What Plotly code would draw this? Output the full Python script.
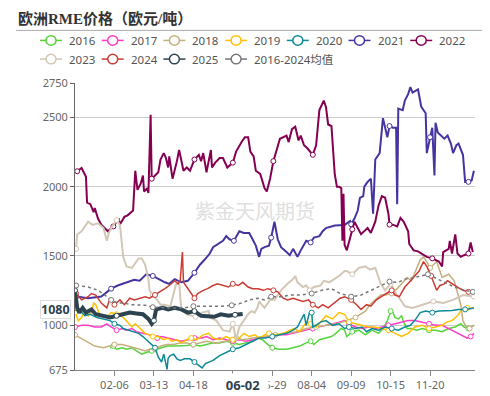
import plotly.graph_objects as go
import pandas as pd

# ---------------- data (day offset from 01-01, value) ----------------
tick_days = [36, 72, 108, 144, 180, 216, 252, 288, 324]
tick_labels = ["02-06", "03-13", "04-18", "05-24", "06-29", "08-04", "09-09", "10-15", "11-20"]
y_ticks = [675, 1000, 1500, 2000, 2500, 2750]

s2016 = [(32, 836), (35, 848), (38, 825), (43, 836), (47, 825), (52, 836), (56, 813), (61, 790), (65, 802), (70, 813),
         (75, 825), (79, 836), (84, 848), (90, 848), (96, 848), (102, 852), (108, 859), (114, 848), (120, 859), (126, 871),
         (132, 871), (138, 883), (144, 871), (150, 859), (156, 871), (162, 883), (167, 906), (171, 894), (176, 859), (180, 836),
         (186, 825), (193, 825), (199, 836), (205, 848), (211, 871), (215, 883), (218, 859), (223, 894), (229, 906), (234, 917),
         (238, 940), (243, 975), (246, 963), (248, 917), (253, 952), (259, 963), (265, 929), (271, 963), (277, 940), (282, 986),
         (285, 1032), (288, 1101), (289, 1113), (292, 1055), (295, 1044), (298, 1067), (300, 1021), (303, 975), (307, 975), (312, 963),
         (317, 975), (323, 963), (329, 963), (335, 952), (341, 975), (347, 986), (352, 1009), (355, 986), (359, 975), (364, 998)]

s2017 = [(0, 986), (6, 998), (12, 998), (18, 986), (24, 986), (29, 1009), (33, 986), (38, 963), (43, 975), (47, 963),
         (52, 975), (56, 952), (62, 940), (68, 929), (75, 906), (79, 917), (85, 906), (91, 894), (97, 883), (103, 894),
         (109, 906), (116, 906), (120, 917), (126, 894), (132, 906), (138, 894), (144, 883), (150, 894), (156, 883), (162, 894),
         (168, 906), (174, 917), (180, 917), (186, 929), (193, 929), (199, 940), (205, 952), (211, 963), (217, 975), (223, 986),
         (229, 998), (235, 1009), (241, 1021), (246, 1032), (250, 1009), (256, 986), (262, 975), (268, 986), (274, 975), (280, 986),
         (286, 998), (292, 1009), (298, 1021), (304, 1032), (310, 1032), (317, 1021), (323, 1009), (329, 998), (335, 998), (341, 975),
         (347, 952), (353, 929), (358, 906), (361, 917), (364, 940)]

s2018 = [(0, 929), (5, 906), (11, 883), (18, 848), (26, 836), (32, 848), (36, 859), (43, 859), (49, 848), (55, 836),
         (59, 825), (64, 813), (68, 825), (73, 825), (78, 848), (84, 859), (90, 859), (96, 871), (102, 871), (108, 859),
         (114, 871), (120, 883), (129, 871), (138, 883), (147, 906), (153, 894), (162, 906), (174, 917), (183, 929), (193, 940),
         (202, 952), (211, 975), (220, 986), (229, 998), (238, 1009), (244, 1021), (256, 1055), (265, 1101), (269, 1147), (274, 1182),
         (279, 1217), (283, 1217), (289, 1228), (294, 1263), (298, 1298), (303, 1344), (307, 1320), (312, 1413), (315, 1470), (318, 1493),
         (321, 1459), (324, 1413), (327, 1436), (330, 1459), (335, 1344), (341, 1367), (346, 1320), (349, 1228), (352, 1147), (354, 1030),
         (357, 986), (360, 975), (364, 1000)]

s2019 = [(0, 1090), (3, 1032), (6, 1055), (9, 1101), (12, 1067), (15, 1090), (17, 1159), (19, 1147), (23, 1067), (29, 1055),
         (33, 1090), (38, 1078), (44, 1055), (49, 1009), (52, 986), (55, 1009), (59, 975), (64, 940), (68, 929), (71, 917),
         (76, 917), (81, 894), (85, 906), (88, 883), (93, 894), (97, 871), (102, 894), (106, 906), (111, 894), (117, 929),
         (122, 940), (126, 906), (132, 894), (138, 917), (144, 894), (150, 906), (154, 940), (159, 917), (164, 929), (168, 906),
         (173, 929), (177, 940), (183, 929), (190, 940), (196, 963), (200, 975), (205, 952), (209, 998), (212, 1021), (215, 1009),
         (220, 986), (224, 1021), (229, 1067), (232, 1055), (235, 1044), (238, 1067), (241, 1090), (246, 1078), (250, 1021), (256, 1009),
         (262, 998), (268, 986), (274, 986), (280, 975), (286, 963), (292, 940), (298, 917), (304, 940), (310, 986), (317, 998),
         (323, 975), (329, 986), (335, 998), (339, 1021), (344, 1032), (349, 1067), (353, 1113), (358, 1124), (364, 1124)]

s2020 = [(0, 1124), (5, 1101), (9, 1067), (14, 1078), (20, 1055), (26, 1044), (32, 1032), (36, 1009), (41, 998), (44, 975),
         (49, 963), (53, 952), (58, 940), (62, 917), (67, 883), (70, 859), (73, 836), (76, 767), (79, 733), (81, 790),
         (84, 680), (85, 760), (87, 779), (90, 790), (93, 756), (96, 744), (100, 756), (105, 756), (109, 733), (113, 710),
         (116, 690), (119, 721), (126, 744), (132, 779), (138, 802), (144, 825), (150, 836), (156, 859), (162, 883), (168, 906),
         (174, 906), (180, 917), (186, 929), (193, 940), (199, 963), (203, 986), (206, 1032), (209, 1078), (211, 998), (214, 1090),
         (216, 1090), (217, 986), (220, 998), (224, 1021), (229, 1032), (235, 998), (241, 1009), (246, 975), (250, 986), (256, 975),
         (262, 986), (266, 952), (271, 975), (277, 963), (283, 986), (289, 975), (295, 963), (301, 986), (306, 998), (310, 1032),
         (315, 1090), (320, 1101), (326, 1090), (332, 1101), (338, 1101), (344, 1105), (350, 1113), (356, 1113), (364, 1124)]

s2021 = [(1, 1206), (12, 1194), (24, 1206), (30, 1240), (33, 1263), (39, 1286), (47, 1309), (54, 1327), (59, 1320), (65, 1367),
         (71, 1355), (76, 1332), (82, 1309), (86, 1298), (91, 1332), (97, 1309), (103, 1320), (109, 1378), (114, 1436), (118, 1470),
         (123, 1517), (126, 1563), (130, 1586), (135, 1609), (138, 1643), (141, 1620), (145, 1609), (150, 1678), (154, 1666), (159, 1666),
         (162, 1620), (165, 1574), (168, 1493), (170, 1551), (173, 1563), (177, 1574), (179, 1632), (182, 1747), (185, 1620), (188, 1563),
         (193, 1528), (196, 1505), (199, 1551), (203, 1493), (206, 1540), (211, 1609), (215, 1597), (218, 1632), (223, 1643), (226, 1678),
         (229, 1701), (237, 1720), (246, 1724), (251, 1752), (252, 1729), (255, 1770), (258, 1828), (260, 1920), (263, 1932), (264, 2001),
         (267, 2035), (270, 2058), (272, 1805), (273, 2070), (274, 2197), (278, 2243), (281, 2496), (285, 2358), (287, 2439), (290, 2427),
         (293, 2427), (294, 1874), (295, 2565), (299, 2554), (301, 2623), (304, 2669), (306, 2720), (308, 2681), (313, 2704), (316, 2577),
         (320, 2531), (321, 2243), (324, 2358), (326, 2427), (328, 2081), (329, 2462), (331, 2392), (334, 2370), (337, 2347), (340, 2370),
         (343, 2312), (345, 2243), (348, 2300), (350, 2312), (354, 2231), (356, 2035), (359, 2035), (362, 2047), (364, 2116)]

s2022 = [(2, 2112), (6, 2135), (10, 2072), (11, 1885), (14, 1874), (17, 1816), (18, 1846), (21, 1770), (24, 1726), (27, 1701),
         (30, 1678), (35, 1713), (40, 1770), (41, 1726), (45, 1782), (48, 1793), (53, 1828), (55, 2116), (57, 1977), (60, 2024),
         (62, 2081), (63, 1966), (66, 1989), (67, 1955), (69, 2520), (70, 2058), (74, 2093), (76, 2105), (78, 2197), (81, 2243),
         (83, 2208), (85, 2139), (86, 2220), (89, 2058), (93, 2185), (95, 2266), (99, 2116), (102, 2139), (105, 2116), (109, 2197),
         (113, 2231), (115, 2185), (117, 2243), (120, 2105), (124, 2266), (125, 2139), (128, 2174), (132, 2208), (135, 2208), (139, 2139),
         (144, 2174), (147, 2254), (152, 2323), (155, 2358), (158, 2358), (160, 2254), (163, 2220), (165, 2116), (169, 2093), (173, 1989),
         (175, 1966), (178, 2058), (181, 2185), (184, 2266), (187, 2347), (193, 2370), (195, 2323), (198, 2416), (201, 2434), (204, 2335),
         (206, 2370), (209, 2300), (212, 2278), (217, 2231), (220, 2300), (223, 2554), (227, 2623), (229, 2577), (231, 2450), (234, 2439),
         (237, 2093), (239, 1999), (241, 1999), (243, 1990), (244, 1610), (245, 1950), (246, 1580), (248, 1540), (250, 1600), (253, 1692),
         (255, 1747), (261, 1657), (267, 1701), (270, 1666), (274, 1747), (277, 1865), (280, 1932), (283, 1920), (286, 1805), (287, 1726),
         (290, 1726), (294, 1713), (297, 1775), (300, 1747), (304, 1678), (305, 1586), (309, 1540), (313, 1533), (318, 1505), (321, 1493),
         (326, 1482), (332, 1459), (335, 1424), (336, 1528), (341, 1551), (342, 1609), (344, 1517), (347, 1655), (349, 1517), (352, 1493),
         (355, 1505), (359, 1517), (361, 1597), (363, 1528)]

s2023 = [(1, 1551), (2, 1655), (6, 1678), (12, 1747), (16, 1724), (21, 1736), (26, 1701), (29, 1609), (31, 1666), (33, 1701),
         (38, 1759), (41, 1724), (44, 1493), (47, 1424), (52, 1413), (55, 1447), (58, 1482), (61, 1482), (64, 1436), (67, 1332),
         (68, 1251), (71, 1217), (75, 1182), (78, 1147), (81, 1147), (87, 1136), (89, 1200), (92, 1290), (95, 1309), (97, 1113),
         (102, 1078), (110, 1060), (116, 1090), (122, 1101), (123, 1055), (129, 1032), (135, 963), (141, 952), (144, 1009), (147, 894),
         (150, 986), (153, 1021), (158, 1078), (161, 1101), (164, 1090), (167, 1136), (168, 1171), (173, 1124), (176, 1159), (179, 1194),
         (182, 1182), (188, 1251), (194, 1298), (199, 1332), (201, 1355), (203, 1309), (208, 1275), (211, 1286), (214, 1251), (218, 1275),
         (224, 1286), (227, 1320), (232, 1309), (237, 1332), (241, 1355), (246, 1390), (248, 1390), (253, 1367), (259, 1413), (265, 1424),
         (269, 1401), (274, 1413), (279, 1298), (283, 1251), (288, 1298), (292, 1240), (297, 1182), (301, 1136), (308, 1124), (317, 1147),
         (327, 1171), (336, 1159), (345, 1182), (354, 1217), (364, 1206)]

s2024 = [(1, 1228), (6, 1182), (12, 1205), (15, 1228), (19, 1217), (24, 1159), (29, 1124), (32, 1194), (36, 1147), (41, 1182),
         (45, 1147), (50, 1194), (54, 1182), (59, 1194), (64, 1205), (68, 1194), (73, 1217), (77, 1240), (82, 1263), (86, 1286),
         (91, 1320), (94, 1298), (96, 1320), (98, 1528), (99, 1309), (102, 1275), (106, 1228), (109, 1194), (112, 1228), (117, 1251),
         (121, 1263), (126, 1286), (130, 1298), (135, 1286), (140, 1275), (144, 1298), (149, 1286), (153, 1309), (158, 1275), (162, 1263),
         (167, 1263), (172, 1251), (176, 1263), (181, 1251), (185, 1240), (190, 1194), (194, 1182), (199, 1194), (203, 1182), (208, 1171),
         (213, 1182), (217, 1147), (222, 1124), (226, 1147), (231, 1124), (237, 1159), (242, 1194), (246, 1205), (252, 1182), (257, 1147),
         (261, 1113), (266, 1147), (270, 1136), (275, 1182), (279, 1205), (284, 1228), (289, 1251), (292, 1217), (296, 1205), (301, 1275),
         (305, 1309), (310, 1355), (314, 1390), (318, 1459), (321, 1424), (325, 1355), (330, 1251), (333, 1286), (337, 1298), (340, 1320),
         (345, 1298), (349, 1275), (354, 1251), (359, 1240), (365, 1240)]

s2025 = [(0, 1251), (2, 1124), (4, 1090), (7, 1124), (10, 1090), (15, 1113), (19, 1078), (26, 1067), (32, 1055), (38, 1067),
         (44, 1078), (50, 1090), (56, 1084), (62, 1078), (67, 1044), (70, 1009), (72, 1032), (74, 1113), (80, 1124), (85, 1113),
         (91, 1124), (97, 1113), (103, 1090), (109, 1101), (115, 1067), (121, 1067), (127, 1060), (133, 1078), (140, 1067), (146, 1074),
         (152, 1074), (153, 1080)]

s_avg = [(1, 1286), (12, 1275), (21, 1251), (27, 1217), (33, 1182), (39, 1159), (45, 1159), (51, 1147), (57, 1147), (64, 1143),
         (71, 1129), (79, 1124), (85, 1124), (91, 1124), (100, 1124), (108, 1136), (115, 1136), (124, 1136), (133, 1136), (143, 1143),
         (152, 1159), (159, 1182), (167, 1194), (173, 1182), (179, 1205), (188, 1205), (197, 1217), (206, 1217), (216, 1228), (225, 1251),
         (234, 1263), (242, 1228), (252, 1205), (261, 1217), (270, 1251), (279, 1286), (287, 1314), (295, 1309), (301, 1332), (310, 1344),
         (316, 1355), (322, 1367), (328, 1344), (337, 1309), (346, 1275), (356, 1251), (363, 1240)]

series = [
    ("2016", s2016, "#55d43a", 1.5, "solid"),
    ("2017", s2017, "#ff3cc7", 1.5, "solid"),
    ("2018", s2018, "#c4b07c", 1.5, "solid"),
    ("2019", s2019, "#ffc000", 1.5, "solid"),
    ("2020", s2020, "#0e8a96", 1.5, "solid"),
    ("2021", s2021, "#4535a0", 2, "solid"),
    ("2022", s2022, "#850052", 2, "solid"),
    ("2023", s2023, "#d3c7b6", 2, "solid"),
    ("2024", s2024, "#cc3b33", 1.5, "solid"),
    ("2025", s2025, "#2e4350", 4, "solid"),
    ("2016-2024均值", s_avg, "#777777", 1.5, "dot"),
]

base = pd.Timestamp("2024-01-01")


def to_date(d):
    return base + pd.Timedelta(days=d)


# plot area in pixels (for placing legend / title decorations)
L, T, W, H = 67, 75, 400, 300


def px(xp):
    return (xp - L) / W


def py(yp):
    return (T + H - yp) / H


fig = go.Figure()
marker_days = [0] + tick_days + [360]
for name, pts, color, width, dash in series:
    days = [p[0] for p in pts]
    vals = [p[1] for p in pts]
    xs = [to_date(d) for d in days]
    fig.add_trace(go.Scatter(x=xs, y=vals, mode="lines", name=name, showlegend=False,
                             line=dict(color=color, width=width, dash=dash), hoverinfo="skip"))
    # symbols at label interval
    mx, my = [], []
    for t in marker_days:
        best = min(range(len(days)), key=lambda i: abs(days[i] - t))
        if abs(days[best] - t) <= 4:
            mx.append(xs[best])
            my.append(vals[best])
    fig.add_trace(go.Scatter(x=mx, y=my, mode="markers", showlegend=False, hoverinfo="skip",
                             marker=dict(size=5, color="white", line=dict(color=color, width=1))))

# legend (drawn as shapes + text, two rows of seven)
for i, (name, pts, color, width, dash) in enumerate(series):
    col, row = i % 7, i // 7
    x0 = 32 + 61.7 * col
    yc = 30.5 + 19.5 * row
    fig.add_shape(type="line", xref="paper", yref="paper", x0=px(x0), x1=px(x0 + 22), y0=py(yc), y1=py(yc),
                  line=dict(color=color, width=1.5))
    fig.add_shape(type="circle", xref="paper", yref="paper", x0=px(x0 + 6), x1=px(x0 + 16),
                  y0=py(yc + 5), y1=py(yc - 5), fillcolor="white", line=dict(color=color, width=1.5))
    fig.add_annotation(text=name, xref="paper", yref="paper", x=px(x0 + 27), y=py(yc), xanchor="left",
                       yanchor="middle", showarrow=False, font=dict(size=11.5, color="#555"))

fig.update_layout(
    width=490, height=396,
    margin=dict(l=L, r=23, t=T, b=21),
    paper_bgcolor="white", plot_bgcolor="white",
    font=dict(family="Noto Sans, Noto Sans CJK SC, sans-serif", color="#666", size=11),
    title=dict(text="<b>欧洲RME价格（欧元/吨）</b>", xref="container", yref="container",
               x=10 / 490, xanchor="left", y=1 - 11 / 396, yanchor="middle",
               font=dict(family="Liberation Serif, Noto Sans CJK SC, serif", size=15, color="#333")),
    showlegend=False,
)

fig.update_xaxes(type="date", range=[to_date(0), to_date(365)],
                 tickvals=[to_date(d) for d in tick_days], ticktext=tick_labels,
                 showgrid=False, showline=True, linecolor="#888", linewidth=1,
                 ticks="outside", ticklen=5, tickcolor="#888", tickfont=dict(size=11, color="#666"),
                 zeroline=False)
fig.update_yaxes(range=[675, 2750], tickvals=y_ticks, showgrid=True, gridcolor="#cccccc", gridwidth=1,
                 showline=True, linecolor="#666", linewidth=1, ticks="outside", ticklen=4, tickcolor="#666",
                 tickfont=dict(size=11, color="#666"), zeroline=False)

# title underline
fig.add_shape(type="line", xref="paper", yref="paper", x0=px(8), x1=px(490),
              y0=py(20), y1=py(20), line=dict(color="#aaaaaa", width=1))

# watermark
fig.add_annotation(text="紫金天风期货", xref="paper", yref="paper", x=px(247), y=py(208),
                   showarrow=False, font=dict(size=20, color="#e0e0e0", family="Noto Sans CJK SC"))

# axis pointer labels
last_day, last_val = s2025[-1]
fig.add_annotation(text="<b>%d</b>" % last_val, xref="paper", yref="y", x=0, y=last_val, xanchor="right",
                   xshift=-4, yshift=4, showarrow=False, bgcolor="white", bordercolor="#dddddd", borderwidth=1,
                   borderpad=0, font=dict(size=12.5, color="#2e4350"))
fig.add_annotation(text="&nbsp;&nbsp;<b>06-02</b>&nbsp;&nbsp;", xref="x", yref="paper", x=to_date(last_day), y=0,
                   yanchor="top", yshift=-3, showarrow=False, bgcolor="white", borderpad=2,
                   font=dict(size=13, color="#2e4350"))

fig.write_html("out.html")
